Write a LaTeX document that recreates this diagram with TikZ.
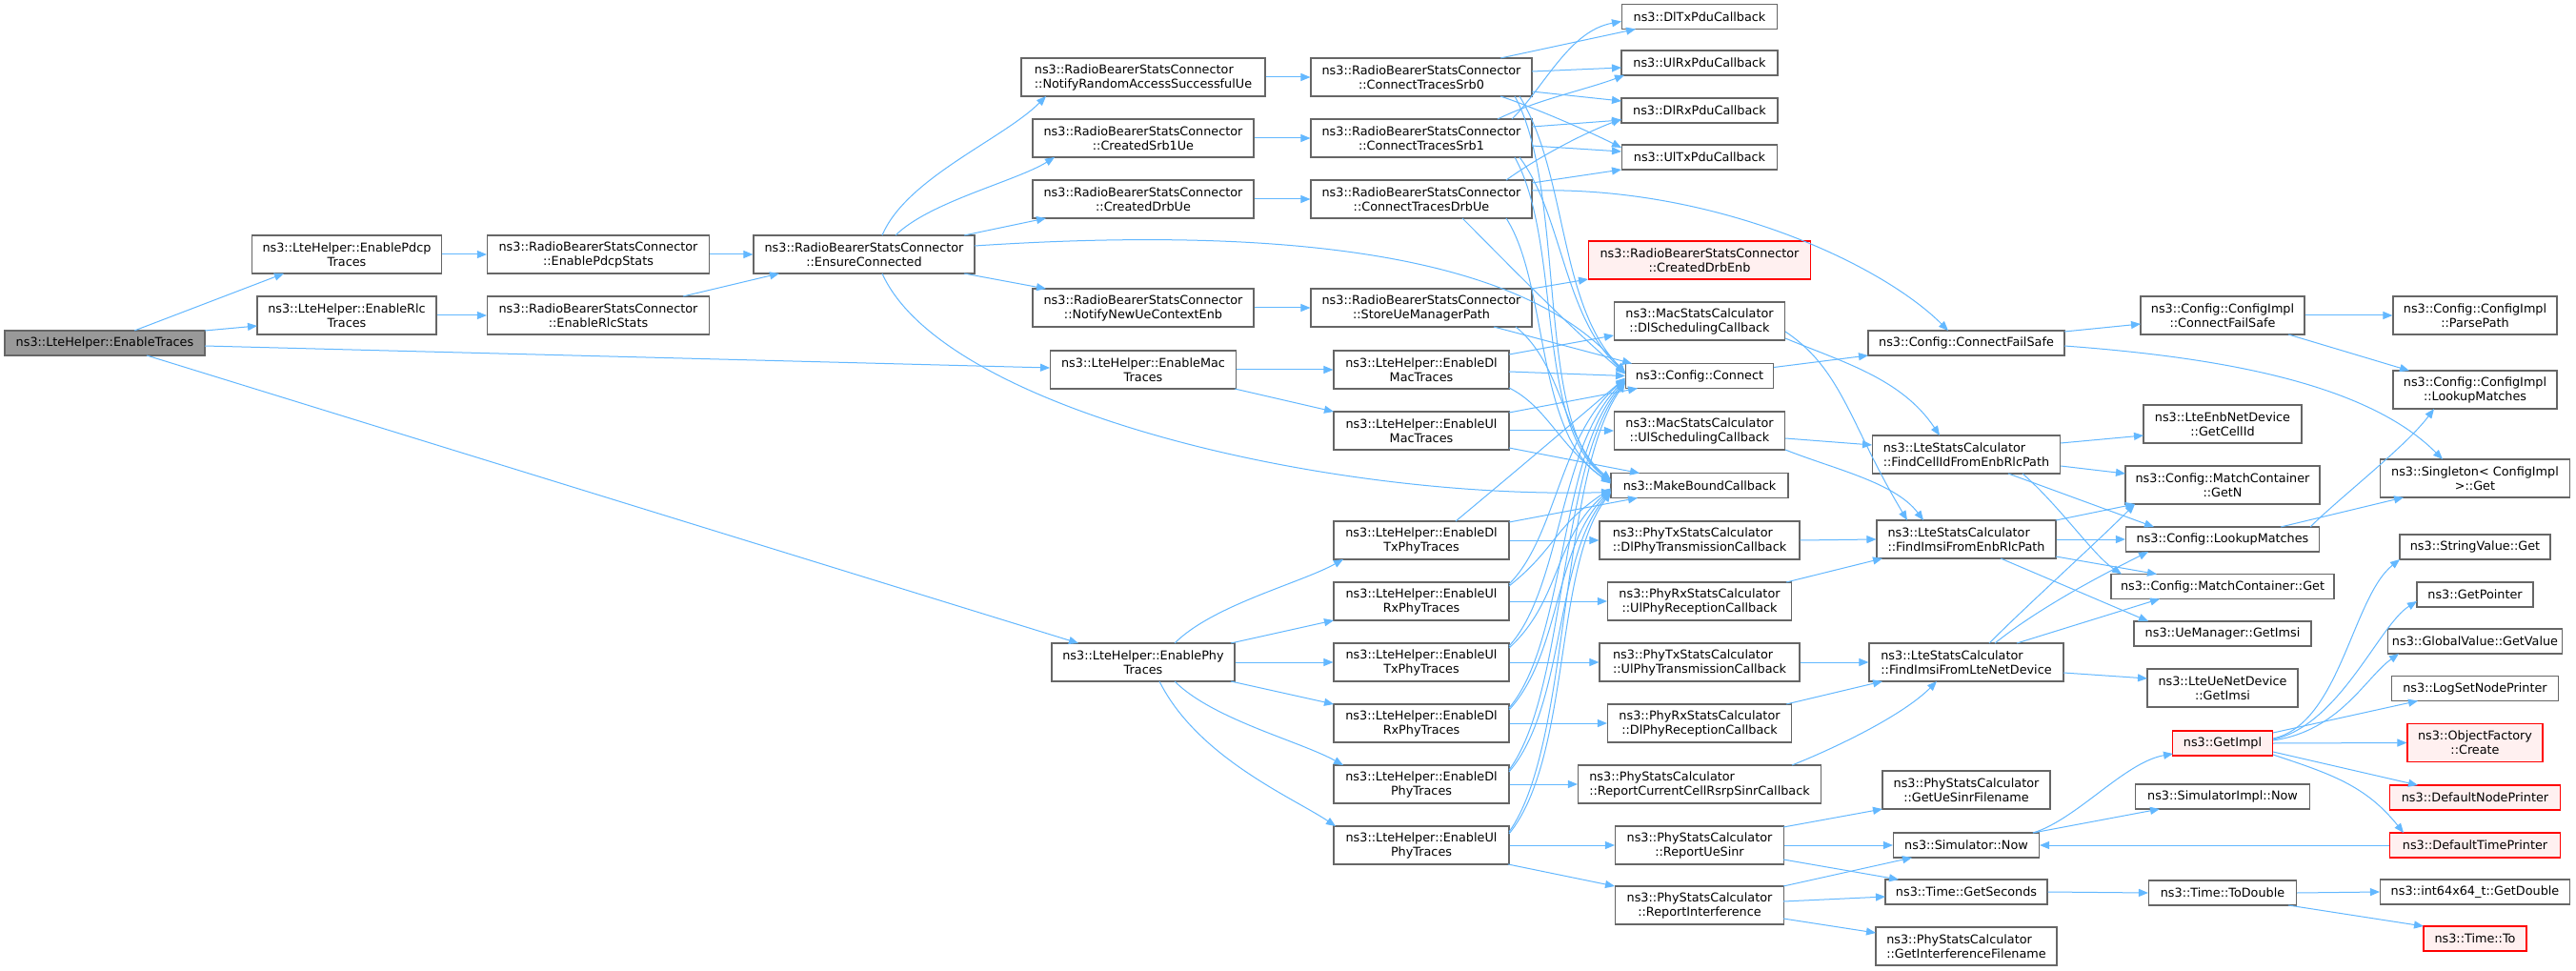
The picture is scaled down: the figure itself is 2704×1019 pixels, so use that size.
\documentclass[tikz,border=0pt]{standalone}
\usepackage{fontspec}
\setmainfont{DejaVu Sans}
\usetikzlibrary{arrows.meta,calc}
\definecolor{edgecol}{HTML}{63B8FF}
\definecolor{nodeborder}{HTML}{666666}
\definecolor{rootfill}{HTML}{999999}
\definecolor{hotborder}{HTML}{FF0000}
\definecolor{hotfill}{HTML}{FFF0F0}
\begin{document}
\begin{tikzpicture}[x=0.75pt,y=-0.75pt,
  box/.style={draw=nodeborder,fill=white,line width=0.85pt,inner sep=0pt,minimum height=19.5pt,align=center,font=\fontsize{9.6}{11.25}\selectfont},
  two/.style={minimum height=30pt},
  wd/.style={minimum width=#1*0.75pt},
  hot/.style={draw=hotborder,fill=hotfill},
  rootnode/.style={fill=rootfill},
  lft/.style={align=left},
  e/.style={draw=edgecol,line width=0.75pt,-{Triangle[length=7.5pt,width=6pt]}},
]
\useasboundingbox[fill=white] (0,0) rectangle (2704,1019);
% column 0-3
\node[box,rootnode,wd=210] (et) at (110,360) {ns3::LteHelper::EnableTraces};
\node[box,two,wd=199] (epdcp) at (364,267) {ns3::LteHelper::EnablePdcp\\Traces};
\node[box,two,wd=188] (erlc) at (364,331) {ns3::LteHelper::EnableRlc\\Traces};
\node[box,two,wd=233] (epdcps) at (628,267) {ns3::RadioBearerStatsConnector\\::EnablePdcpStats};
\node[box,two,wd=233] (erlcs) at (628,331) {ns3::RadioBearerStatsConnector\\::EnableRlcStats};
\node[box,two,wd=232] (ensure) at (907,267) {ns3::RadioBearerStatsConnector\\::EnsureConnected};
% column 4
\node[box,two,lft,wd=256] (nrasu) at (1200,81) {ns3::RadioBearerStatsConnector\\::NotifyRandomAccessSuccessfulUe};
\node[box,two,wd=232] (csrb1) at (1200,145) {ns3::RadioBearerStatsConnector\\::CreatedSrb1Ue};
\node[box,two,wd=232] (cdrb) at (1200,209) {ns3::RadioBearerStatsConnector\\::CreatedDrbUe};
\node[box,two,wd=232] (nnuce) at (1200,323) {ns3::RadioBearerStatsConnector\\::NotifyNewUeContextEnb};
\node[box,two,wd=195] (emac) at (1200,388) {ns3::LteHelper::EnableMac\\Traces};
\node[box,two,wd=192] (ephy) at (1200,695) {ns3::LteHelper::EnablePhy\\Traces};
% column 5
\node[box,two,wd=232] (ctsrb0) at (1492,81) {ns3::RadioBearerStatsConnector\\::ConnectTracesSrb0};
\node[box,two,wd=232] (ctsrb1) at (1492,145) {ns3::RadioBearerStatsConnector\\::ConnectTracesSrb1};
\node[box,two,wd=232] (ctdrb) at (1492,209) {ns3::RadioBearerStatsConnector\\::ConnectTracesDrbUe};
\node[box,two,wd=232] (sump) at (1492,323) {ns3::RadioBearerStatsConnector\\::StoreUeManagerPath};
\node[box,two,wd=184] (edlmac) at (1492,388) {ns3::LteHelper::EnableDl\\MacTraces};
\node[box,two,wd=184] (eulmac) at (1492,452) {ns3::LteHelper::EnableUl\\MacTraces};
\node[box,two,wd=184] (edltx) at (1492,567) {ns3::LteHelper::EnableDl\\TxPhyTraces};
\node[box,two,wd=184] (eulrx) at (1492,631) {ns3::LteHelper::EnableUl\\RxPhyTraces};
\node[box,two,wd=184] (eultx) at (1492,695) {ns3::LteHelper::EnableUl\\TxPhyTraces};
\node[box,two,wd=184] (edlrx) at (1492,759) {ns3::LteHelper::EnableDl\\RxPhyTraces};
\node[box,two,wd=184] (edlphy) at (1492,823) {ns3::LteHelper::EnableDl\\PhyTraces};
\node[box,two,wd=184] (eulphy) at (1492,887) {ns3::LteHelper::EnableUl\\PhyTraces};
% column 6
\node[box,wd=163] (dltx) at (1784,17.5) {ns3::DlTxPduCallback};
\node[box,wd=164] (ulrx) at (1784,66) {ns3::UlRxPduCallback};
\node[box,wd=164] (dlrx) at (1784,116) {ns3::DlRxPduCallback};
\node[box,wd=163] (ultx) at (1784,165) {ns3::UlTxPduCallback};
\node[box,two,hot,wd=233] (cdrbenb) at (1784,273) {ns3::RadioBearerStatsConnector\\::CreatedDrbEnb};
\node[box,two,wd=179] (dlsched) at (1784,337) {ns3::MacStatsCalculator\\::DlSchedulingCallback};
\node[box,wd=155] (cconn) at (1784,394.5) {ns3::Config::Connect};
\node[box,two,wd=179] (ulsched) at (1784,452) {ns3::MacStatsCalculator\\::UlSchedulingCallback};
\node[box,wd=186] (mbc) at (1784,509.5) {ns3::MakeBoundCallback};
\node[box,two,lft,wd=210] (dlphytx) at (1784,567) {ns3::PhyTxStatsCalculator\\::DlPhyTransmissionCallback};
\node[box,two,wd=193] (ulphyrx) at (1784,631) {ns3::PhyRxStatsCalculator\\::UlPhyReceptionCallback};
\node[box,two,lft,wd=210] (ulphytx) at (1784,695) {ns3::PhyTxStatsCalculator\\::UlPhyTransmissionCallback};
\node[box,two,wd=193] (dlphyrx) at (1784,759) {ns3::PhyRxStatsCalculator\\::DlPhyReceptionCallback};
\node[box,two,lft,wd=255] (rccrs) at (1784,823) {ns3::PhyStatsCalculator\\::ReportCurrentCellRsrpSinrCallback};
\node[box,two,wd=177] (uesinr) at (1784,887) {ns3::PhyStatsCalculator\\::ReportUeSinr};
\node[box,two,wd=177] (repint) at (1784,950) {ns3::PhyStatsCalculator\\::ReportInterference};
% column 7
\node[box,wd=206] (cfs) at (2064,360) {ns3::Config::ConnectFailSafe};
\node[box,two,lft,wd=197] (fcid) at (2064,477) {ns3::LteStatsCalculator\\::FindCellIdFromEnbRlcPath};
\node[box,two,lft,wd=188] (fimsirlc) at (2064,566) {ns3::LteStatsCalculator\\::FindImsiFromEnbRlcPath};
\node[box,two,lft,wd=204] (fimsilte) at (2064,695) {ns3::LteStatsCalculator\\::FindImsiFromLteNetDevice};
\node[box,two,wd=176] (uesinrf) at (2064,829) {ns3::PhyStatsCalculator\\::GetUeSinrFilename};
\node[box,wd=153] (simnow) at (2064,887) {ns3::Simulator::Now};
\node[box,wd=170] (getsec) at (2064,936) {ns3::Time::GetSeconds};
\node[box,two,lft,wd=190] (interf) at (2064,993) {ns3::PhyStatsCalculator\\::GetInterferenceFilename};
% column 8
\node[box,two,wd=172] (cicfs) at (2333,331) {ns3::Config::ConfigImpl\\::ConnectFailSafe};
\node[box,two,wd=166] (cellid) at (2333,445) {ns3::LteEnbNetDevice\\::GetCellId};
\node[box,two,wd=204] (getn) at (2333,509) {ns3::Config::MatchContainer\\::GetN};
\node[box,wd=203] (clm) at (2333,566) {ns3::Config::LookupMatches};
\node[box,wd=234] (mcget) at (2333,615.5) {ns3::Config::MatchContainer::Get};
\node[box,wd=186] (uemimsi) at (2333,665) {ns3::UeManager::GetImsi};
\node[box,two,wd=158] (ueimsi) at (2333,722) {ns3::LteUeNetDevice\\::GetImsi};
\node[box,hot,wd=105] (getimpl) at (2333,780) {ns3::GetImpl};
\node[box,wd=183] (simimpl) at (2333,836) {ns3::SimulatorImpl::Now};
\node[box,wd=155] (todouble) at (2333,937) {ns3::Time::ToDouble};
% column 9
\node[box,two,wd=172] (parse) at (2598,331) {ns3::Config::ConfigImpl\\::ParsePath};
\node[box,two,wd=172] (cilm) at (2598,409) {ns3::Config::ConfigImpl\\::LookupMatches};
\node[box,two,wd=199] (singleton) at (2598,502) {ns3::Singleton< ConfigImpl\\ >::Get};
\node[box,wd=158] (strval) at (2598,574) {ns3::StringValue::Get};
\node[box,wd=122] (getptr) at (2598,624) {ns3::GetPointer};
\node[box,wd=183] (gvget) at (2598,673) {ns3::GlobalValue::GetValue};
\node[box,wd=175] (lognp) at (2598,722.5) {ns3::LogSetNodePrinter};
\node[box,two,hot,wd=142] (ofcreate) at (2598,779.5) {ns3::ObjectFactory\\::Create};
\node[box,hot,wd=179] (dnp) at (2598,837) {ns3::DefaultNodePrinter};
\node[box,hot,wd=179] (dtp) at (2598,887) {ns3::DefaultTimePrinter};
\node[box,wd=199] (getdouble) at (2598,936) {ns3::int64x64\_t::GetDouble};
\node[box,hot,wd=108] (timeto) at (2598,985) {ns3::Time::To};

% ---------- edges ----------
\draw[e] ($(et)+(31,-13)$) -- ($(epdcp)+(-66,20)$);
\draw[e] ($(et)+(105,-13)$) -- ($(erlc)+(-94,11)$);
\draw[e] ($(et)+(105,3)$) -- ($(emac)+(-98,-2)$);
\draw[e] ($(et)+(44,13)$) -- ($(ephy)+(-68,-20)$);
\draw[e] (epdcp.east) -- (epdcps.west);
\draw[e] (erlc.east) -- (erlcs.west);
\draw[e] (epdcps.east) -- (ensure.west);
\draw[e] ($(erlcs)+(89,-20)$) -- ($(ensure)+(-89,20)$);
\draw[e] ($(ensure)+(19,-20)$) .. controls +(25,-60) and +(-45,45) .. ($(nrasu)+(-102,20)$);
\draw[e] ($(ensure)+(33,-20)$) .. controls +(35,-35) and +(-40,25) .. ($(csrb1)+(-93,20)$);
\draw[e] ($(ensure)+(105,-20)$) -- ($(cdrb)+(-102,20)$);
\draw[e] ($(ensure)+(105,20)$) -- ($(nnuce)+(-102,-20)$);
\draw[e] ($(ensure)+(116,-9)$) .. controls +(380,-25) and +(-90,-110) .. ($(cconn)+(-78,-2)$);
\draw[e] ($(ensure)+(19,20)$) .. controls +(64,143) and +(-300,8) .. ($(mbc)+(-93,7)$);
\draw[e] (nrasu.east) -- (ctsrb0.west);
\draw[e] (csrb1.east) -- (ctsrb1.west);
\draw[e] (cdrb.east) -- (ctdrb.west);
\draw[e] (nnuce.east) -- (sump.west);
\draw[e] (emac.east) -- (edlmac.west);
\draw[e] ($(emac)+(96,20)$) -- ($(eulmac)+(-92,-20)$);
\draw[e] ($(ephy)+(33,-20)$) .. controls +(40,-40) and +(-45,25) .. ($(edltx)+(-82,20)$);
\draw[e] ($(ephy)+(92,-20)$) -- ($(eulrx)+(-92,20)$);
\draw[e] (ephy.east) -- (eultx.west);
\draw[e] ($(ephy)+(92,20)$) -- ($(edlrx)+(-92,-20)$);
\draw[e] ($(ephy)+(33,20)$) .. controls +(40,40) and +(-45,-25) .. ($(edlphy)+(-82,-20)$);
\draw[e] ($(ephy)+(17,20)$) .. controls +(40,80) and +(-45,-30) .. ($(eulphy)+(-90,-20)$);
% column 5 -> 6
\draw[e] ($(ctsrb0)+(83,-20)$) -- ($(dltx)+(-67,13)$);
\draw[e] ($(ctsrb1)+(95,-20)$) .. controls +(35,-35) and +(-55,10) .. ($(dltx)+(-82,5)$);
\draw[e] ($(ctsrb0)+(116,-6)$) -- ($(ulrx)+(-82,5)$);
\draw[e] ($(ctsrb1)+(80,-20)$) .. controls +(40,-20) and +(-40,15) .. ($(ulrx)+(-79,13)$);
\draw[e] ($(ctsrb0)+(116,15)$) -- ($(dlrx)+(-82,-10)$);
\draw[e] ($(ctsrb1)+(116,-12)$) -- ($(dlrx)+(-82,10)$);
\draw[e] ($(ctdrb)+(89,-20)$) .. controls +(35,-25) and +(-40,15) .. ($(dlrx)+(-82,9)$);
\draw[e] ($(ctsrb0)+(83,20)$) .. controls +(30,10) and +(-40,-20) .. ($(ultx)+(-82,-10)$);
\draw[e] ($(ctsrb1)+(116,8)$) -- ($(ultx)+(-82,-6)$);
\draw[e] ($(ctdrb)+(116,-17)$) -- ($(ultx)+(-82,13)$);
\draw[e] ($(ctdrb)+(116,-9)$) .. controls +(192,-5) and +(-70,-70) .. ($(cfs)+(-19,-13)$);
\draw[e] ($(sump)+(116,-20)$) -- ($(cdrbenb)+(-117,20)$);
\draw[e] ($(sump)+(76,20)$) -- ($(cconn)+(-71,-13)$);
\draw[e] ($(sump)+(99,20)$) .. controls +(50,40) and +(-50,-40) .. ($(mbc)+(-93,-6)$);
% bundle into Config::Connect and MakeBoundCallback
\draw[e] ($(ctsrb0)+(103,20)$) .. controls +(50,80) and +(-70,-70) .. ($(cconn)+(-78,-4)$);
\draw[e] ($(ctsrb0)+(98,20)$) .. controls +(55,100) and +(-80,-60) .. ($(mbc)+(-93,-5)$);
\draw[e] ($(ctsrb1)+(103,20)$) .. controls +(45,60) and +(-65,-60) .. ($(cconn)+(-78,-3)$);
\draw[e] ($(ctsrb1)+(98,20)$) .. controls +(50,90) and +(-80,-60) .. ($(mbc)+(-93,-4)$);
\draw[e] ($(ctdrb)+(43,20)$) .. controls +(40,40) and +(-60,-50) .. ($(cconn)+(-78,-2)$);
\draw[e] ($(ctdrb)+(89,20)$) .. controls +(45,70) and +(-80,-50) .. ($(mbc)+(-93,-3)$);
\draw[e] ($(edlmac)+(92,-16)$) -- ($(dlsched)+(-90,15)$);
\draw[e] ($(edlmac)+(92,2)$) -- ($(cconn)+(-78,0)$);
\draw[e] ($(edlmac)+(92,19)$) .. controls +(40,20) and +(-55,-40) .. ($(mbc)+(-93,-2)$);
\draw[e] ($(eulmac)+(92,-19)$) -- ($(cconn)+(-65,13)$);
\draw[e] (eulmac.east) -- (ulsched.west);
\draw[e] ($(eulmac)+(92,18)$) -- ($(mbc)+(-63,-13)$);
\draw[e] ($(edltx)+(36,-20)$) .. controls +(60,-50) and +(-70,60) .. ($(cconn)+(-78,2)$);
\draw[e] ($(edltx)+(92,-19)$) -- ($(mbc)+(-65,13)$);
\draw[e] (edltx.east) -- (dlphytx.west);
\draw[e] ($(eulrx)+(92,-18)$) .. controls +(50,-50) and +(-70,60) .. ($(cconn)+(-78,3)$);
\draw[e] ($(eulrx)+(92,-16)$) .. controls +(50,-40) and +(-60,40) .. ($(mbc)+(-93,3)$);
\draw[e] (eulrx.east) -- (ulphyrx.west);
\draw[e] ($(eultx)+(92,-17)$) .. controls +(55,-60) and +(-70,70) .. ($(cconn)+(-78,4)$);
\draw[e] ($(eultx)+(92,-15)$) .. controls +(55,-50) and +(-60,50) .. ($(mbc)+(-93,4)$);
\draw[e] (eultx.east) -- (ulphytx.west);
\draw[e] ($(edlrx)+(92,-16)$) .. controls +(60,-70) and +(-70,80) .. ($(cconn)+(-78,5)$);
\draw[e] ($(edlrx)+(92,-14)$) .. controls +(55,-60) and +(-60,60) .. ($(mbc)+(-93,5)$);
\draw[e] (edlrx.east) -- (dlphyrx.west);
\draw[e] ($(edlphy)+(92,-15)$) .. controls +(60,-80) and +(-70,90) .. ($(cconn)+(-78,6)$);
\draw[e] ($(edlphy)+(92,-13)$) .. controls +(60,-70) and +(-60,70) .. ($(mbc)+(-93,6)$);
\draw[e] (edlphy.east) -- (rccrs.west);
\draw[e] ($(eulphy)+(92,-14)$) .. controls +(65,-90) and +(-70,100) .. ($(cconn)+(-78,7)$);
\draw[e] ($(eulphy)+(92,-12)$) .. controls +(65,-80) and +(-60,80) .. ($(mbc)+(-93,7)$);
\draw[e] (eulphy.east) -- (uesinr.west);
\draw[e] ($(eulphy)+(91,20)$) -- ($(repint)+(-89,-20)$);
% column 6 -> 7
\draw[e] ($(dlsched)+(90,18)$) .. controls +(60,25) and +(-40,-60) .. ($(fcid)+(-28,-20)$);
\draw[e] ($(dlsched)+(90,11)$) .. controls +(60,40) and +(-60,-100) .. ($(fimsirlc)+(-62,-20)$);
\draw[e] ($(cconn)+(78,-9)$) -- ($(cfs)+(-103,13)$);
\draw[e] ($(ulsched)+(90,8)$) -- ($(fcid)+(-99,-10)$);
\draw[e] ($(ulsched)+(90,20)$) .. controls +(50,20) and +(-30,-40) .. ($(fimsirlc)+(-45,-20)$);
\draw[e] (dlphytx.east) -- (fimsirlc.west);
\draw[e] ($(ulphyrx)+(91,-20)$) -- ($(fimsirlc)+(-88,20)$);
\draw[e] (ulphytx.east) -- (fimsilte.west);
\draw[e] ($(dlphyrx)+(91,-20)$) -- ($(fimsilte)+(-88,20)$);
\draw[e] ($(rccrs)+(97,-20)$) .. controls +(50,-20) and +(-35,35) .. ($(fimsilte)+(-31,20)$);
\draw[e] ($(uesinr)+(88,-19)$) -- ($(uesinrf)+(-88,20)$);
\draw[e] (uesinr.east) -- (simnow.west);
\draw[e] ($(uesinr)+(88,15)$) -- ($(getsec)+(-71,-13)$);
\draw[e] ($(repint)+(88,-20)$) -- ($(simnow)+(-57,13)$);
\draw[e] ($(repint)+(88,-4)$) -- ($(getsec)+(-85,5)$);
\draw[e] ($(repint)+(88,14)$) -- ($(interf)+(-95,-14)$);
% column 7 -> 8
\draw[e] ($(cfs)+(103,-12)$) -- ($(cicfs)+(-86,9)$);
\draw[e] ($(cfs)+(103,3)$) .. controls +(163,12) and +(-80,-80) .. ($(singleton)+(-34,-20)$);
\draw[e] ($(fcid)+(99,-12)$) -- ($(cellid)+(-83,12)$);
\draw[e] ($(fcid)+(99,12)$) -- ($(getn)+(-102,-12)$);
\draw[e] ($(fcid)+(44,20)$) -- ($(clm)+(-72,-13)$);
\draw[e] ($(fcid)+(59,20)$) .. controls +(40,35) and +(-30,-20) .. ($(mcget)+(-106,-13)$);
\draw[e] ($(fimsirlc)+(94,-20)$) -- ($(getn)+(-92,20)$);
\draw[e] (fimsirlc.east) -- (clm.west);
\draw[e] ($(fimsirlc)+(94,18)$) -- ($(mcget)+(-69,-13)$);
\draw[e] ($(fimsirlc)+(36,20)$) -- ($(uemimsi)+(-78,-13)$);
\draw[e] ($(fimsilte)+(24,-20)$) .. controls +(40,-40) and +(-40,40) .. ($(getn)+(-92,20)$);
\draw[e] ($(fimsilte)+(30,-20)$) .. controls +(50,-40) and +(-40,20) .. ($(clm)+(-78,13)$);
\draw[e] ($(fimsilte)+(53,-20)$) -- ($(mcget)+(-66,13)$);
\draw[e] ($(fimsilte)+(102,11)$) -- ($(ueimsi)+(-79,-10)$);
\draw[e] ($(simnow)+(70,-13)$) .. controls +(46,-14) and +(-51,9) .. ($(getimpl)+(-52,11)$);
\draw[e] ($(simnow)+(70,-13)$) -- ($(simimpl)+(-66,13)$);
\draw[e] (getsec.east) -- (todouble.west);
\draw[e] (dtp.west) -- (simnow.east);
% column 8 -> 9
\draw[e] (cicfs.east) -- (parse.west);
\draw[e] ($(cicfs)+(69,20)$) -- ($(cilm)+(-69,-20)$);
\draw[e] ($(clm)+(92,-13)$) .. controls +(30,-30) and +(-30,40) .. ($(cilm)+(-43,20)$);
\draw[e] ($(clm)+(61,-13)$) -- ($(singleton)+(-75,20)$);
\draw[e] ($(getimpl)+(53,-5)$) .. controls +(70,-15) and +(-50,40) .. ($(strval)+(-79,13)$);
\draw[e] ($(getimpl)+(53,-4)$) .. controls +(70,-15) and +(-40,25) .. ($(getptr)+(-61,7)$);
\draw[e] ($(getimpl)+(53,-3)$) .. controls +(70,-10) and +(-35,25) .. ($(gvget)+(-80,13)$);
\draw[e] ($(getimpl)+(53,-11)$) -- ($(lognp)+(-60,13)$);
\draw[e] (getimpl.east) -- (ofcreate.west);
\draw[e] ($(getimpl)+(53,9)$) -- ($(dnp)+(-60,-13)$);
\draw[e] ($(getimpl)+(53,12)$) .. controls +(60,20) and +(-40,-50) .. ($(dtp)+(-75,-13)$);
\draw[e] (todouble.east) -- (getdouble.west);
\draw[e] ($(todouble)+(69,13)$) -- ($(timeto)+(-54,-13)$);
\end{tikzpicture}
\end{document}
